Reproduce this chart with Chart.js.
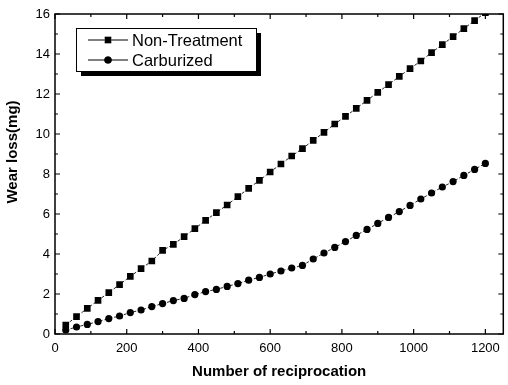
<!DOCTYPE html>
<html>
<head>
<meta charset="utf-8">
<script src="https://cdn.jsdelivr.net/npm/chart.js@4"></script>
<style>
html,body{margin:0;padding:0;background:#fff;}
#wrap{width:508px;height:385px;position:relative;}
</style>
</head>
<body>
<div id="wrap"><canvas id="c" width="508" height="385"></canvas></div>
<script>
const reciprocations = [30,60,90,120,150,180,210,240,270,300,330,360,390,420,450,480,510,540,570,600,630,660,690,720,750,780,810,840,870,900,930,960,990,1020,1050,1080,1110,1140,1170,1200];
const nonTreatment = [0.45,0.87,1.28,1.68,2.07,2.47,2.88,3.27,3.65,4.18,4.48,4.87,5.27,5.68,6.07,6.45,6.87,7.28,7.68,8.1,8.5,8.9,9.27,9.68,10.08,10.5,10.88,11.28,11.68,12.08,12.47,12.88,13.27,13.65,14.07,14.47,14.87,15.27,15.67,16.07];
const carburized = [0.2,0.35,0.48,0.62,0.77,0.9,1.07,1.2,1.37,1.52,1.67,1.78,1.97,2.12,2.23,2.38,2.52,2.69,2.83,3.0,3.15,3.3,3.43,3.75,4.05,4.33,4.62,4.93,5.23,5.53,5.83,6.12,6.43,6.75,7.05,7.35,7.62,7.93,8.23,8.53];
const seriesNames = ['Non-Treatment','Carburized'];
const xTickValues = [0,200,400,600,800,1000,1200];
const xTitle = 'Number of reciprocation';
const yTitle = 'Wear loss(mg)';

const FONT = '"Liberation Sans", Arial, sans-serif';
const toXY = (xs, ys) => xs.map((x, i) => ({x: x, y: ys[i]}));

const frameTicks = {
  id: 'frameTicks',
  afterDatasetsDraw(chart) {
    const ctx = chart.ctx, a = chart.chartArea;
    const xs = chart.scales.x, ys = chart.scales.y;
    ctx.save();
    ctx.strokeStyle = '#000';
    ctx.lineWidth = 1.5;
    ctx.strokeRect(a.left, a.top, a.right - a.left, a.bottom - a.top);
    ctx.lineWidth = 1.2;
    ctx.beginPath();
    for (let v = 0; v <= xs.max; v += 100) {
      const p = xs.getPixelForValue(v);
      const len = v % 200 === 0 ? 5 : 3;
      ctx.moveTo(p, a.bottom); ctx.lineTo(p, a.bottom - len);
      ctx.moveTo(p, a.top); ctx.lineTo(p, a.top + len);
    }
    for (let v = 0; v <= ys.max; v += 1) {
      const p = ys.getPixelForValue(v);
      const len = v % 2 === 0 ? 5 : 3;
      ctx.moveTo(a.left, p); ctx.lineTo(a.left + len, p);
      ctx.moveTo(a.right, p); ctx.lineTo(a.right - len, p);
    }
    ctx.stroke();
    // y-axis title
    ctx.save();
    ctx.translate(13, 152);
    ctx.rotate(-Math.PI / 2);
    ctx.fillStyle = '#000';
    ctx.font = 'bold 15px ' + FONT;
    ctx.textAlign = 'center';
    ctx.textBaseline = 'middle';
    ctx.fillText(yTitle, 0, 0);
    ctx.restore();
    ctx.restore();
  }
};

const boxLegend = {
  id: 'boxLegend',
  afterDraw(chart) {
    const ctx = chart.ctx;
    const bx = 76, by = 28, bw = 180, bh = 43;
    ctx.save();
    ctx.fillStyle = '#000';
    ctx.fillRect(bx + 5, by + 5, bw, bh);
    ctx.fillStyle = '#fff';
    ctx.fillRect(bx, by, bw, bh);
    ctx.strokeStyle = '#000';
    ctx.lineWidth = 1;
    ctx.strokeRect(bx + 0.5, by + 0.5, bw, bh);
    chart.data.datasets.forEach((ds, i) => {
      const cy = by + 12 + i * 20;
      ctx.strokeStyle = '#000';
      ctx.lineWidth = 1;
      ctx.beginPath();
      ctx.moveTo(88, cy); ctx.lineTo(128, cy);
      ctx.stroke();
      Chart.helpers.drawPoint(ctx, {pointStyle: ds.pointStyle, radius: ds.pointRadius, borderWidth: 0}, 108, cy);
      ctx.fillStyle = '#000';
      ctx.fill();
      ctx.font = '16.5px ' + FONT;
      ctx.textBaseline = 'middle';
      ctx.textAlign = 'left';
      ctx.fillText(ds.label, 132, cy + 1);
    });
    ctx.restore();
  }
};

new Chart(document.getElementById('c'), {
  type: 'line',
  data: {
    datasets: [
      {label: seriesNames[0], data: toXY(reciprocations, nonTreatment), pointStyle: 'rect', pointRadius: 4.7,
       backgroundColor: '#000', borderColor: '#222', borderWidth: 1, borderDash: [3, 2], pointBorderWidth: 0},
      {label: seriesNames[1], data: toXY(reciprocations, carburized), pointStyle: 'circle', pointRadius: 3.6,
       backgroundColor: '#000', borderColor: '#222', borderWidth: 1, borderDash: [3, 2], pointBorderWidth: 0}
    ]
  },
  options: {
    responsive: false,
    animation: false,
    devicePixelRatio: 1,
    layout: {padding: {top: 14, right: 1, left: 0, bottom: 0}},
    plugins: {legend: {display: false}, tooltip: {enabled: false}},
    scales: {
      x: {
        type: 'linear', min: 0, max: 1250,
        afterBuildTicks: s => { s.ticks = xTickValues.map(v => ({value: v})); },
        afterFit: s => { s.height = 51; },
        grid: {display: false, drawTicks: false, tickLength: 0}, border: {display: false},
        ticks: {color: '#000', padding: 7, maxRotation: 0, autoSkip: false,
                callback: v => String(v),
                font: {family: FONT, size: 13}},
        title: {display: true, text: xTitle, color: '#000', padding: {top: 0, bottom: 4},
                font: {family: FONT, size: 15, weight: 'bold'}}
      },
      y: {
        type: 'linear', min: 0, max: 16,
        afterFit: s => { s.width = 55; },
        grid: {display: false, drawTicks: false, tickLength: 0}, border: {display: false},
        ticks: {stepSize: 2, color: '#000', padding: 5,
                callback: v => String(v),
                font: {family: FONT, size: 13}},
        title: {display: false}
      }
    }
  },
  plugins: [frameTicks, boxLegend]
});
</script>
</body>
</html>
